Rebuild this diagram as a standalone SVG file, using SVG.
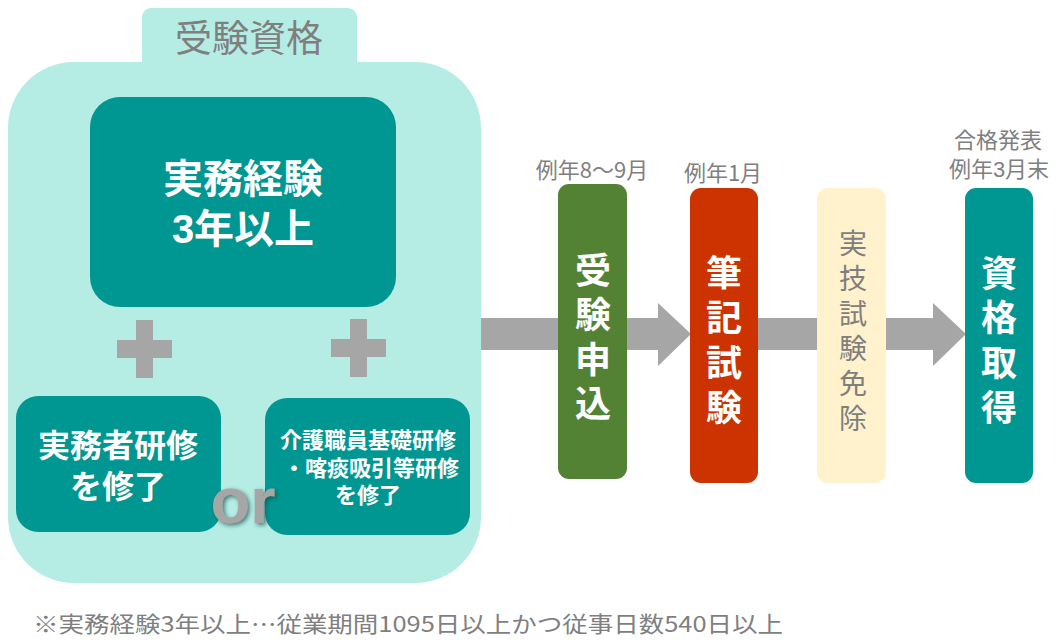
<svg xmlns="http://www.w3.org/2000/svg" width="1058" height="644" viewBox="0 0 1058 644">
<defs>
<style>
.jp{font-family:"Noto Sans CJK JP","Noto Sans",sans-serif;}
.ml{font-family:"Liberation Sans","Noto Sans CJK JP",sans-serif;}
.b{font-weight:bold;fill:#ffffff;}
.g{fill:#7f7f7f;}
.teal{fill:#009792;}
.gray{fill:#a6a6a6;}
.v{writing-mode:vertical-rl;}
</style>
<filter id="sh" x="-20%" y="-20%" width="140%" height="140%">
<feDropShadow dx="2" dy="2" stdDeviation="2" flood-color="#1a4a47" flood-opacity="0.7"/>
</filter>
</defs>
<rect width="1058" height="644" fill="#ffffff"/>

<g id="connectors">
<rect x="481" y="318" width="180" height="32" class="gray"/>
<polygon points="658,303 691,334 658,366" class="gray"/>
<rect x="758" y="318" width="177" height="32" class="gray"/>
<polygon points="933,303 966,334 933,366" class="gray"/>
</g>

<g id="qualification">
<rect x="142" y="8" width="215" height="70" rx="9" fill="#b5ede4"/>
<rect x="8" y="62" width="473" height="521" rx="66" fill="#b5ede4"/>
<text x="249" y="52" text-anchor="middle" font-size="37" class="jp g">受験資格</text>
</g>

<g id="experience">
<rect x="90" y="97" width="306" height="210" rx="30" class="teal"/>
<text text-anchor="middle" font-size="40" class="ml b"><tspan x="243" y="193">実務経験</tspan><tspan x="243" y="243">3年以上</tspan></text>
</g>

<g id="plus-left">
<rect x="136" y="320" width="17" height="58" class="gray"/>
<rect x="117" y="340" width="55" height="18" class="gray"/>
</g>
<g id="plus-right">
<rect x="350" y="319" width="17" height="58" class="gray"/>
<rect x="331" y="339" width="55" height="18" class="gray"/>
</g>

<g id="training1">
<rect x="16" y="396" width="205" height="136" rx="22" class="teal"/>
<text text-anchor="middle" font-size="32" class="ml b"><tspan x="118" y="457">実務者研修</tspan><tspan x="118" y="498">を修了</tspan></text>
</g>

<g id="training2">
<rect x="265" y="398" width="205" height="137" rx="22" class="teal"/>
<text text-anchor="middle" font-size="22" class="ml b"><tspan x="368" y="448">介護職員基礎研修</tspan><tspan x="371" y="476">・喀痰吸引等研修</tspan><tspan x="368" y="503">を修了</tspan></text>
</g>

<g id="or">
<text x="243" y="523" text-anchor="middle" font-size="65" font-weight="bold" font-family="'Liberation Sans',Arial,sans-serif" fill="#a6a6a6" filter="url(#sh)">or</text>
</g>

<g id="apply">
<text x="592" y="178" text-anchor="middle" font-size="22" class="jp g">例年8〜9月</text>
<rect x="558" y="184" width="69" height="295" rx="11" fill="#548235"/>
<text x="593" y="252" font-size="36" letter-spacing="8.5" class="jp b v">受験申込</text>
</g>

<g id="written">
<text x="723" y="181" text-anchor="middle" font-size="22" class="jp g">例年1月</text>
<rect x="690" y="188" width="68" height="295" rx="11" fill="#cc3300"/>
<text x="724" y="254" font-size="36" letter-spacing="9" class="jp b v">筆記試験</text>
</g>

<g id="practical">
<rect x="817" y="188" width="69" height="295" rx="11" fill="#fff2cc"/>
<text x="853" y="229" font-size="28" letter-spacing="7" class="jp g v">実技試験免除</text>
</g>

<g id="acquire">
<text text-anchor="middle" font-size="22" class="ml g"><tspan x="998" y="148">合格発表</tspan><tspan x="999" y="177">例年3月末</tspan></text>
<rect x="965" y="188" width="68" height="295" rx="11" class="teal"/>
<text x="999" y="255" font-size="36" letter-spacing="8.7" class="jp b v">資格取得</text>
</g>

<g id="note">
<text x="33" y="632" font-size="22" textLength="750" lengthAdjust="spacingAndGlyphs" class="jp g">※実務経験3年以上…従業期間1095日以上かつ従事日数540日以上</text>
</g>
</svg>
